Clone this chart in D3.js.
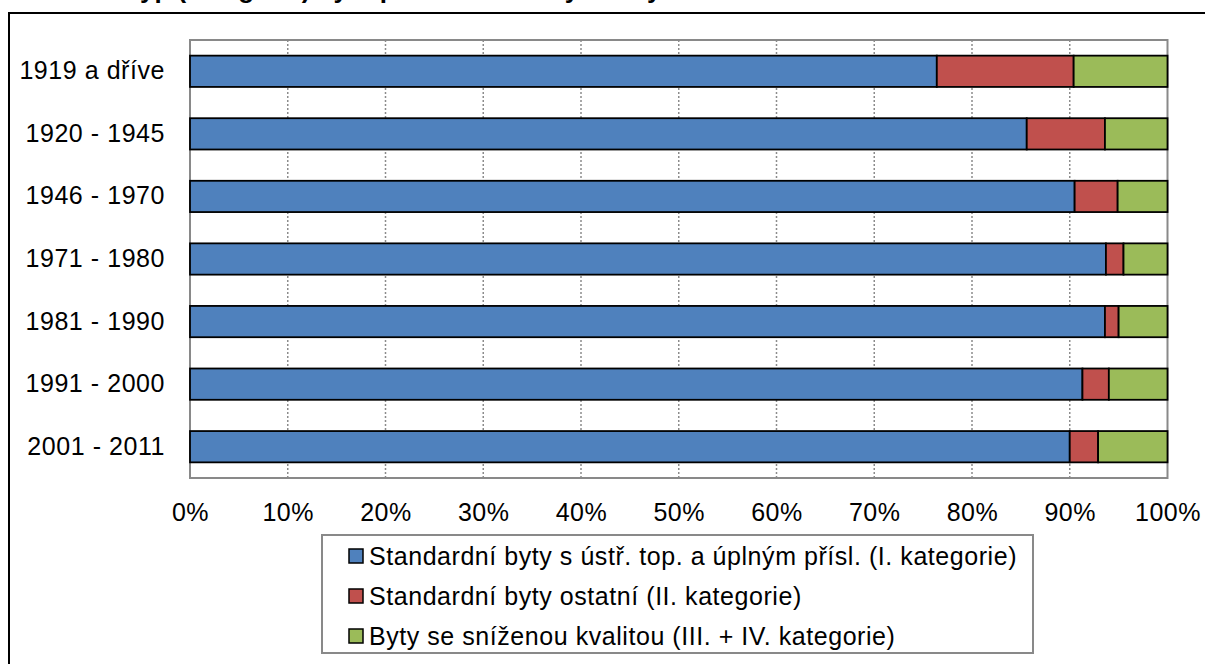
<!DOCTYPE html>
<html>
<head>
<meta charset="utf-8">
<script src="https://cdn.jsdelivr.net/npm/d3@7"></script>
<style>
  body { margin: 0; background: #fff; }
  svg { display: block; }
  text { font-family: "Liberation Sans", Arial, sans-serif; fill: #000; }
</style>
</head>
<body>
<svg id="chart" width="1205" height="664"></svg>
<script>
// Period of construction (rows, top to bottom)
const periods = ["1919 a dříve", "1920 - 1945", "1946 - 1970", "1971 - 1980", "1981 - 1990", "1991 - 2000", "2001 - 2011"];

// Dwelling categories (stack order, left to right)
const categoryNames = [
  "Standardní byty s ústř. top. a úplným přísl. (I. kategorie)",
  "Standardní byty ostatní (II. kategorie)",
  "Byty se sníženou kvalitou (III. + IV. kategorie)"
];

// Shares in percent per period
const catI   = [76.4, 85.6, 90.5, 93.7, 93.6, 91.3, 90.0];
const catII  = [14.0,  8.0,  4.4,  1.8,  1.4,  2.7,  2.9];
const catIII = [ 9.6,  6.4,  5.1,  4.5,  5.0,  6.0,  7.1];

const tickValues = [0, 10, 20, 30, 40, 50, 60, 70, 80, 90, 100];
const titleText = "Typ (kategorie) bytů podle období výstavby";

const colors = ["#4F81BD", "#C0504D", "#9BBB59"];
const keys = ["c1", "c2", "c3"];

const rows = periods.map((p, i) => ({ period: p, c1: catI[i], c2: catII[i], c3: catIII[i] }));

const svg = d3.select("#chart");
const FONT = 25, LS = 0.55;

// Title (sits mostly above the visible area)
svg.append("text")
  .attr("x", 126).attr("y", -2.5)
  .attr("font-size", 26).attr("font-weight", "bold")
  .text(titleText);

// Outer chart frame
svg.append("rect")
  .attr("x", 9).attr("y", 13).attr("width", 1200).attr("height", 700)
  .attr("fill", "none").attr("stroke", "#000").attr("stroke-width", 2);

const plot = { left: 190, right: 1167.5, top: 40, bottom: 478 };

const x = d3.scaleLinear().domain([0, 100]).range([plot.left, plot.right]);
const y = d3.scaleBand().domain(periods).range([plot.top, plot.bottom])
  .paddingInner(0.5).paddingOuter(0.25);

// Dotted vertical gridlines
svg.append("g").selectAll("line")
  .data(tickValues.filter(t => t > 0 && t < 100))
  .join("line")
  .attr("x1", d => x(d)).attr("x2", d => x(d))
  .attr("y1", plot.top).attr("y2", plot.bottom)
  .attr("stroke", "#8c8c8c").attr("stroke-width", 1.5)
  .attr("stroke-dasharray", "2,2");

// Plot area border
svg.append("rect")
  .attr("x", plot.left).attr("y", plot.top)
  .attr("width", plot.right - plot.left).attr("height", plot.bottom - plot.top)
  .attr("fill", "none").attr("stroke", "#898989").attr("stroke-width", 2);

// Stacked bars
const series = d3.stack().keys(keys)(rows);
svg.append("g").selectAll("g")
  .data(series)
  .join("g")
  .attr("fill", (d, i) => colors[i])
  .selectAll("rect")
  .data(d => d)
  .join("rect")
  .attr("x", d => x(d[0]))
  .attr("y", d => y(d.data.period))
  .attr("width", d => x(d[1]) - x(d[0]))
  .attr("height", y.bandwidth())
  .attr("stroke", "#000").attr("stroke-width", 1.8);

// Category axis
const yAxis = svg.append("g")
  .attr("transform", `translate(${plot.left},0)`)
  .call(d3.axisLeft(y).tickSize(0).tickPadding(25));
yAxis.select(".domain").remove();
yAxis.selectAll("text")
  .attr("font-size", FONT).attr("letter-spacing", LS)
  .style("font-family", "\"Liberation Sans\", Arial, sans-serif")
  .attr("fill", "#000");

// Percentage axis
const xAxis = svg.append("g")
  .attr("transform", `translate(0,${plot.bottom})`)
  .call(d3.axisBottom(x).tickValues(tickValues).tickSize(0).tickPadding(25)
    .tickFormat(d => d + "%"));
xAxis.select(".domain").remove();
xAxis.selectAll("text")
  .attr("font-size", FONT).attr("letter-spacing", LS)
  .style("font-family", "\"Liberation Sans\", Arial, sans-serif")
  .attr("fill", "#000");

// Legend
const legend = svg.append("g");
legend.append("rect")
  .attr("x", 322).attr("y", 535).attr("width", 711).attr("height", 118)
  .attr("fill", "#fff").attr("stroke", "#898989").attr("stroke-width", 2);

const item = legend.selectAll("g.item")
  .data(categoryNames)
  .join("g").attr("class", "item")
  .attr("transform", (d, i) => `translate(349,${556 + i * 40})`);
item.append("rect")
  .attr("x", 0).attr("y", -7).attr("width", 14).attr("height", 14)
  .attr("fill", (d, i) => colors[i])
  .attr("stroke", "#000").attr("stroke-width", 1.5);
item.append("text")
  .attr("x", 20).attr("y", 0).attr("dy", "0.35em")
  .attr("font-size", FONT).attr("letter-spacing", LS)
  .text(d => d);
</script>
</body>
</html>
